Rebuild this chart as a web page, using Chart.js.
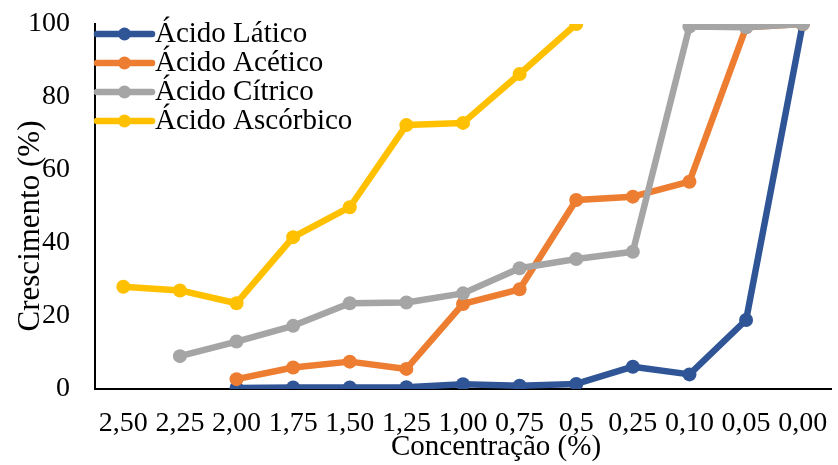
<!DOCTYPE html>
<html>
<head>
<meta charset="utf-8">
<script src="https://cdn.jsdelivr.net/npm/chart.js@4/dist/chart.umd.min.js"></script>
<style>
  html, body { margin: 0; padding: 0; background: #fff; }
  #wrap { width: 838px; height: 465px; }
</style>
</head>
<body>
<div id="wrap"><canvas id="chart" width="838" height="465"></canvas></div>
<script>
// Concentration of each acid (%), from highest to none
const concentrations = ['2,50', '2,25', '2,00', '1,75', '1,50', '1,25', '1,00', '0,75', '0,5', '0,25', '0,10', '0,05', '0,00'];

// Growth (%) for each acid at each concentration
const lactic   = [null, null, 0.3, 0.4, 0.4, 0.5, 1.3, 0.9, 1.4, 6.1, 4.0, 18.9, 100];
const acetic   = [null, null, 2.7, 5.9, 7.5, 5.5, 23.3, 27.3, 51.8, 52.7, 56.8, 99.1, 100];
const citric   = [null, 9.0, 13.0, 17.3, 23.5, 23.7, 26.2, 33.1, 35.6, 37.6, 99.3, 99.1, 100];
const ascorbic = [28.0, 27.0, 23.5, 41.6, 49.8, 72.3, 72.9, 86.3, 100, null, null, null, null];

const seriesNames = ['Ácido Lático', 'Ácido Acético', 'Ácido Cítrico', 'Ácido Ascórbico'];
const seriesColors = ['#2F5597', '#ED7D31', '#A5A5A5', '#FFC000'];
const yTicks = [0, 20, 40, 60, 80, 100];

const axisTitleX = 'Concentração (%)';
const axisTitleY = 'Crescimento (%)';

const FONT = "'Liberation Serif', 'Times New Roman', serif";

function makeSet(i, values) {
  return {
    label: seriesNames[i],
    data: values,
    borderColor: seriesColors[i],
    backgroundColor: seriesColors[i],
    pointBackgroundColor: seriesColors[i],
    pointBorderColor: seriesColors[i],
    borderWidth: 6.5,
    pointRadius: 7,
    pointBorderWidth: 0,
    borderCapStyle: 'round',
    borderJoinStyle: 'round',
    spanGaps: false,
    order: 4 - i            // later series are painted over earlier ones
  };
}

// Legend sitting inside the plot, top-left corner
const innerLegend = {
  id: 'innerLegend',
  afterDatasetsDraw(chart) {
    const ctx = chart.ctx;
    ctx.save();
    ctx.font = '29px ' + FONT;
    ctx.textBaseline = 'middle';
    ctx.textAlign = 'left';
    const x0 = 97, x1 = 152, top = 34, step = 29;
    seriesNames.forEach((name, i) => {
      const y = top + i * step;
      ctx.strokeStyle = seriesColors[i];
      ctx.lineWidth = 6.5;
      ctx.lineCap = 'round';
      ctx.beginPath();
      ctx.moveTo(x0, y);
      ctx.lineTo(x1, y);
      ctx.stroke();
      ctx.fillStyle = seriesColors[i];
      ctx.beginPath();
      ctx.arc((x0 + x1) / 2, y, 6.5, 0, Math.PI * 2);
      ctx.fill();
      ctx.fillStyle = '#000';
      ctx.fillText(name, 155, y);
    });
    ctx.restore();
  }
};

// Axis titles placed close to the tick labels
const axisTitles = {
  id: 'axisTitles',
  afterDraw(chart) {
    const ctx = chart.ctx;
    ctx.save();
    ctx.fillStyle = '#000';
    ctx.textBaseline = 'alphabetic';
    ctx.textAlign = 'center';
    ctx.font = '29px ' + FONT;
    ctx.fillText(axisTitleX, 496, 455);
    ctx.translate(39, 226);
    ctx.rotate(-Math.PI / 2);
    ctx.font = '31px ' + FONT;
    ctx.fillText(axisTitleY, 0, 0);
    ctx.restore();
  }
};

new Chart(document.getElementById('chart'), {
  type: 'line',
  data: {
    labels: concentrations,
    datasets: [
      makeSet(0, lactic),
      makeSet(1, acetic),
      makeSet(2, citric),
      makeSet(3, ascorbic)
    ]
  },
  options: {
    responsive: false,
    devicePixelRatio: 1,
    animation: false,
    events: [],
    layout: { padding: { top: 24, right: 1, bottom: 0, left: 0 } },
    plugins: {
      legend: { display: false },
      tooltip: { enabled: false }
    },
    scales: {
      x: {
        type: 'category',
        offset: true,
        grid: { display: false, drawTicks: false },
        border: { display: true, color: '#000', width: 2 },
        ticks: {
          color: '#000',
          font: { family: FONT, size: 28 },
          padding: 18,
          maxRotation: 0,
          autoSkip: false
        },
        afterFit(scale) {
          scale.height = 76;
          scale.paddingLeft = 0;
          scale.paddingRight = 0;
        }
      },
      y: {
        min: 0,
        max: 100,
        afterBuildTicks(scale) { scale.ticks = yTicks.map(v => ({ value: v })); },
        grid: { display: false, drawTicks: false },
        border: { display: true, color: '#000', width: 2 },
        ticks: {
          color: '#000',
          font: { family: FONT, size: 28 },
          padding: 25
        },
        afterFit(scale) {
          scale.width = 95;
          scale.paddingTop = 0;
          scale.paddingBottom = 0;
        }
      }
    }
  },
  plugins: [innerLegend, axisTitles]
});
</script>
</body>
</html>
